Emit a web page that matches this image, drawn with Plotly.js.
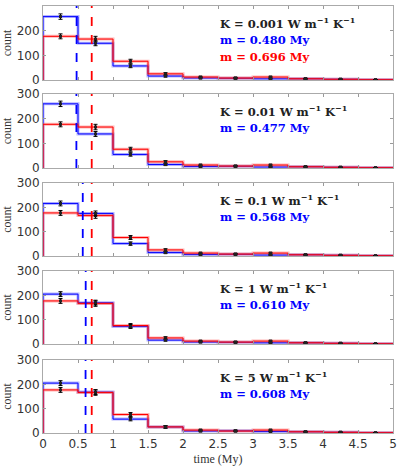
<!DOCTYPE html>
<html>
<head>
<meta charset="utf-8">
<script src="https://cdn.plot.ly/plotly-3.0.1.min.js"></script>
<style>
  html, body { margin: 0; padding: 0; background: #fff; }
  #plot { width: 399px; height: 469px; }
</style>
</head>
<body>
<div id="plot"></div>
<script>
// bin edges (My) and bin centres
const binEdges = [0, 0.5, 1, 1.5, 2, 2.5, 3, 3.5, 4, 4.5, 5];
const binCenters = [0.25, 0.75, 1.25, 1.75, 2.25, 2.75, 3.25, 3.75, 4.25, 4.75];

// reference histogram (red), same in every panel
const redCounts = [177, 166, 76, 25, 12, 8, 12, 5, 3, 1];
const redErr = [10, 11, 8, 5, 3, 3, 3, 2, 2, 1];
const redMedian = 0.696;

// one blue histogram per conductivity
const kLabels = ['0.001', '0.01', '0.1', '1', '5'];
const blueMedians = [0.480, 0.477, 0.568, 0.610, 0.608];
const blueCounts = [
  [257, 149, 57, 16, 8, 7, 5, 5, 3, 1],
  [260, 138, 55, 14, 6, 7, 4, 5, 3, 1],
  [216, 175, 51, 14, 6, 7, 4, 5, 3, 1],
  [205, 170, 72, 16, 8, 7, 5, 5, 3, 1],
  [205, 168, 57, 25, 8, 9, 6, 5, 3, 1]
];
const blueErr = [
  [11, 10, 7, 4, 3, 3, 2, 2, 2, 1],
  [11, 10, 7, 4, 3, 3, 2, 2, 2, 1],
  [10, 10, 7, 4, 3, 3, 2, 2, 2, 1],
  [10, 10, 8, 4, 3, 3, 2, 2, 2, 1],
  [10, 10, 7, 5, 3, 3, 2, 2, 2, 1]
];

const panelDomains = [
  [0.8267, 1.0],
  [0.6206, 0.794],
  [0.4145, 0.5855],
  [0.2084, 0.3794],
  [0.0, 0.171]
];

function stepXY(counts) {
  return {
    x: [0, ...binEdges],
    y: [0, ...counts, counts[counts.length - 1]]
  };
}

const traces = [];
const layout = {
  width: 399,
  height: 469,
  margin: {l: 43, r: 6, t: 6, b: 36},
  paper_bgcolor: '#fff',
  plot_bgcolor: '#fff',
  showlegend: false,
  font: {family: 'DejaVu Sans, sans-serif', size: 11, color: '#333'},
  annotations: []
};

const serif = 'Liberation Serif, DejaVu Serif, serif';
const boldSerif = 'DejaVu Serif, serif';

for (let p = 0; p < 5; p++) {
  const n = p === 0 ? '' : String(p + 1);
  const xa = 'x' + n, ya = 'y' + n;
  const series = [
    {counts: redCounts, err: redErr, color: 'rgb(255,0,0)', light: 'rgba(255,70,70,0.4)'},
    {counts: blueCounts[p], err: blueErr[p], color: 'rgb(0,0,255)', light: 'rgba(70,70,255,0.4)'}
  ];
  // draw order: blue under red in most bins
  [series[1], series[0]].forEach(s => {
    const st = stepXY(s.counts);
    traces.push({
      x: st.x, y: st.y, xaxis: xa, yaxis: ya, type: 'scatter', mode: 'lines',
      line: {shape: 'hv', color: s.light, width: 3}, hoverinfo: 'skip'
    });
    traces.push({
      x: st.x, y: st.y, xaxis: xa, yaxis: ya, type: 'scatter', mode: 'lines',
      line: {shape: 'hv', color: s.color, width: 1}, hoverinfo: 'skip'
    });
  });
  // median lines
  traces.push({
    x: [blueMedians[p], blueMedians[p]], y: [0, 300], xaxis: xa, yaxis: ya,
    type: 'scatter', mode: 'lines', line: {color: 'rgb(0,0,255)', width: 1.8, dash: 'dash'}
  });
  traces.push({
    x: [redMedian, redMedian], y: [0, 300], xaxis: xa, yaxis: ya,
    type: 'scatter', mode: 'lines', line: {color: 'rgb(255,0,0)', width: 1.8, dash: 'dash'}
  });
  // error bars
  series.forEach(s => {
    traces.push({
      x: binCenters, y: s.counts, xaxis: xa, yaxis: ya, type: 'scatter', mode: 'markers',
      marker: {symbol: 'square', size: 3, color: '#222'},
      error_y: {type: 'data', array: s.err, visible: true, color: '#000', thickness: 1, width: 2}
    });
  });

  const last = p === 4;
  layout['xaxis' + n] = {
    domain: [0, 1], anchor: ya, range: [0, 5], dtick: 0.5, tick0: 0,
    ticks: 'inside', ticklen: 3, tickcolor: '#999', mirror: 'ticks',
    showline: true, linecolor: '#aaa', linewidth: 1, showgrid: false, zeroline: false,
    showticklabels: last, tickfont: {size: 12, color: '#333'},
    title: last ? {text: 'time (My)', font: {family: serif, size: 12, color: '#333'}, standoff: 4} : undefined,
    matches: p === 0 ? undefined : 'x'
  };
  layout['yaxis' + n] = {
    domain: panelDomains[p], anchor: xa, range: [0, 300], dtick: 100,
    ticks: 'inside', ticklen: 3, tickcolor: '#999', mirror: 'ticks',
    showline: true, linecolor: '#aaa', linewidth: 1, showgrid: false, zeroline: false,
    tickfont: {size: 12, color: '#333'},
    title: {text: 'count', font: {family: serif, size: 12, color: '#333'}, standoff: 2}
  };

  layout.annotations.push({
    xref: xa, yref: ya, x: 2.5, y: 232, xanchor: 'left', yanchor: 'middle', showarrow: false,
    text: '<b>K = ' + kLabels[p] + ' W m<sup>−1</sup> K<sup>−1</sup></b>',
    font: {family: boldSerif, size: 11.5, color: '#222'}
  });
  layout.annotations.push({
    xref: xa, yref: ya, x: 2.5, y: 162, xanchor: 'left', yanchor: 'middle', showarrow: false,
    text: '<b>m = ' + blueMedians[p].toFixed(3) + ' My</b>',
    font: {family: boldSerif, size: 11.5, color: 'rgb(0,0,255)'}
  });
  if (p === 0) {
    layout.annotations.push({
      xref: xa, yref: ya, x: 2.5, y: 93, xanchor: 'left', yanchor: 'middle', showarrow: false,
      text: '<b>m = ' + redMedian.toFixed(3) + ' My</b>',
      font: {family: boldSerif, size: 11.5, color: 'rgb(255,0,0)'}
    });
  }
}

Plotly.newPlot('plot', traces, layout, {staticPlot: true, displayModeBar: false});
</script>
</body>
</html>
